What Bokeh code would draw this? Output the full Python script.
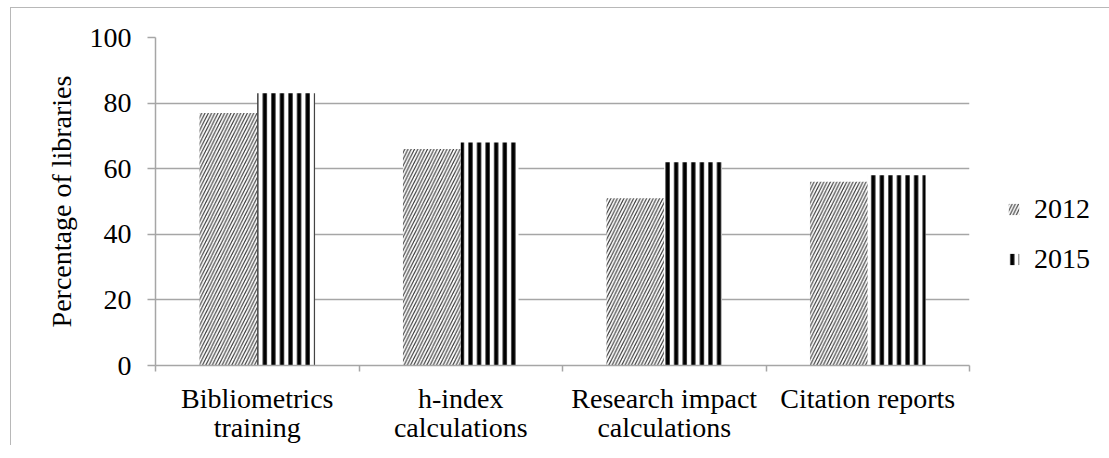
from bokeh.plotting import figure
from bokeh.models import ColumnDataSource, Range1d, FixedTicker, Legend, LegendItem
from bokeh.transform import dodge
from bokeh.embed import file_html
from bokeh.resources import INLINE
import numpy as np

categories = ["Bibliometrics\ntraining", "h-index\ncalculations",
              "Research impact\ncalculations", "Citation reports"]
years = ["2012", "2015"]
v2012 = [77, 66, 51, 56]
v2015 = [83, 68, 62, 58]
y_ticks = [0, 20, 40, 60, 80, 100]

FONT = "Liberation Serif"
GRID = "#a6a6a6"

pos = np.arange(len(categories)) + 0.5
src = ColumnDataSource(dict(x=pos, y2012=v2012, y2015=v2015))

p = figure(width=1097, height=436, output_backend="svg", toolbar_location=None,
           x_range=Range1d(0, len(categories)), y_range=Range1d(0, 100),
           min_border_left=144, min_border_top=29, min_border_bottom=79,
           min_border_right=139, frame_width=814, frame_height=328)
p.margin = (7, 0, 0, 10)
p.outline_line_color = None
p.styles = {"border-top": "1px solid #b8b8b8", "border-left": "1px solid #b8b8b8"}

r1 = p.vbar(x=dodge("x", -0.142, range=p.x_range), top="y2012", width=0.284, source=src,
            fill_color="white", line_color=None, hatch_pattern="/", hatch_scale=6.5,
            hatch_weight=1.1, hatch_color="#333333")
r2 = p.vbar(x=dodge("x", 0.142, range=p.x_range), top="y2015", width=0.284, source=src,
            fill_color="white", line_color=None, hatch_pattern="|", hatch_scale=8.57,
            hatch_weight=4.2, hatch_color="black")

# x axis: category labels at centers, separator ticks at boundaries
xa = p.xaxis[0]
xa.ticker = FixedTicker(ticks=list(pos), minor_ticks=list(range(len(categories) + 1)))
xa.major_label_overrides = {float(x): c for x, c in zip(pos, categories)}
xa.major_tick_line_color = None
xa.minor_tick_line_color = GRID
xa.minor_tick_line_width = 1.5
xa.minor_tick_out = 6
xa.minor_tick_in = 0
xa.axis_line_color = GRID
xa.axis_line_width = 1.5
xa.major_label_text_font = FONT
xa.major_label_text_font_size = "28px"
xa.major_label_text_color = "black"
xa.major_label_text_line_height = 0.95
xa.major_label_standoff = 11

ya = p.yaxis[0]
ya.ticker = FixedTicker(ticks=y_ticks)
ya.minor_tick_line_color = None
ya.major_tick_line_color = GRID
ya.major_tick_line_width = 1.5
ya.major_tick_out = 8
ya.major_tick_in = 0
ya.axis_line_color = GRID
ya.axis_line_width = 1.5
ya.major_label_text_font = FONT
ya.major_label_text_font_size = "28px"
ya.major_label_text_color = "black"
ya.major_label_standoff = 16
ya.axis_label = "Percentage of libraries"
ya.axis_label_text_font = FONT
ya.axis_label_text_font_size = "28px"
ya.axis_label_text_font_style = "normal"
ya.axis_label_text_color = "black"
ya.axis_label_standoff = 10

p.xgrid.grid_line_color = None
p.ygrid.grid_line_color = GRID
p.ygrid.grid_line_width = 1.5

legend = Legend(items=[LegendItem(label=years[0], renderers=[r1]),
                       LegendItem(label=years[1], renderers=[r2])],
                location=(38, 90), border_line_color=None, background_fill_alpha=0,
                padding=0, margin=0, spacing=18, glyph_width=13, glyph_height=14,
                label_standoff=14, label_height=30,
                label_text_font=FONT, label_text_font_size="28px", label_text_color="black")
p.add_layout(legend, "right")

open("out.html", "w").write(file_html(p, INLINE))
